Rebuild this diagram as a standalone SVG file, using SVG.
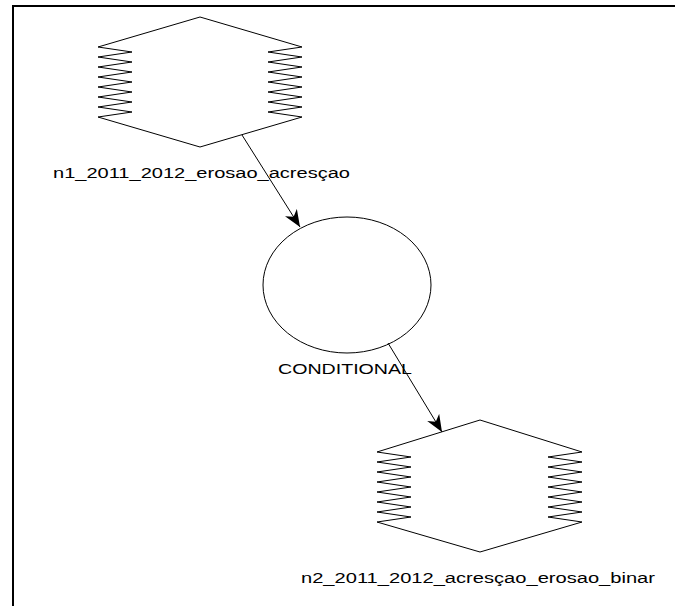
<svg xmlns="http://www.w3.org/2000/svg" width="675" height="606" viewBox="0 0 675 606">
<style>
.shape{fill:none;stroke:#000;stroke-width:1}
.lbl{font-family:"Liberation Sans",Arial,sans-serif;font-size:14px;fill:#000}
.edge{stroke:#000;stroke-width:1;fill:none}
</style>
<defs>
<marker id="arr" markerUnits="userSpaceOnUse" markerWidth="18" markerHeight="14" refX="17" refY="7" orient="auto">
<path d="M0,0 L17,7 L0,14 L5,7 Z" fill="#000"/>
</marker>
</defs>
<rect width="675" height="606" fill="#fff"/>
<path d="M13,606 V6 H675" fill="none" stroke="#000" stroke-width="2"/>

<g id="n1">
<path class="shape" d="M98,47 L200,17 L302,47 M98,117 L200,147 L302,117"/>
<polyline class="shape" points="98,47 132,52 98,57 132,62 98,67 132,72 98,77 132,82 98,87 132,92 98,97 132,102 98,107 132,112 98,117"/>
<polyline class="shape" points="302,47 268,52 302,57 268,62 302,67 268,72 302,77 268,82 302,87 268,92 302,97 268,102 302,107 268,112 302,117"/>
<text class="lbl" x="53" y="178" textLength="297" lengthAdjust="spacingAndGlyphs">n1_2011_2012_erosao_acresçao</text>
</g>

<g id="conditional">
<ellipse class="shape" cx="347" cy="285" rx="84" ry="68"/>
<text class="lbl" x="278" y="374" textLength="134" lengthAdjust="spacingAndGlyphs">CONDITIONAL</text>
</g>

<g id="n2">
<path class="shape" d="M377,452 L480,420 L582,452 M377,522 L480,552 L582,522"/>
<polyline class="shape" points="377,452 411,457 377,462 411,467 377,472 411,477 377,482 411,487 377,492 411,497 377,502 411,507 377,512 411,517 377,522"/>
<polyline class="shape" points="582,452 548,457 582,462 548,467 582,472 548,477 582,482 548,487 582,492 548,497 582,502 548,507 582,512 548,517 582,522"/>
<text class="lbl" x="301" y="583" textLength="354" lengthAdjust="spacingAndGlyphs">n2_2011_2012_acresçao_erosao_binar</text>
</g>

<g id="connectors">
<line class="edge" x1="242" y1="135" x2="300" y2="227" marker-end="url(#arr)"/>
<line class="edge" x1="388" y1="343" x2="442" y2="432" marker-end="url(#arr)"/>
</g>
</svg>
